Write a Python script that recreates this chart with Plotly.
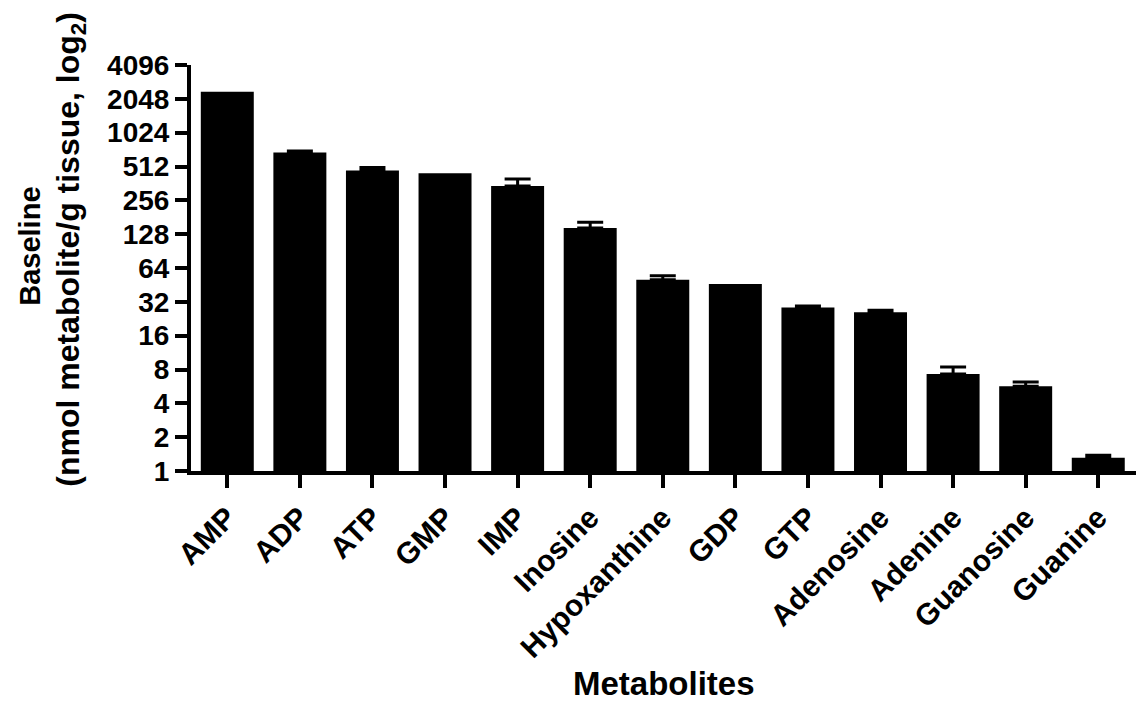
import plotly.graph_objects as go
import math

# Purine metabolite baseline levels (nmol metabolite / g tissue)
metabolites = ["AMP", "ADP", "ATP", "GMP", "IMP", "Inosine", "Hypoxanthine",
               "GDP", "GTP", "Adenosine", "Adenine", "Guanosine", "Guanine"]
baseline = [2370, 681, 471, 447, 344, 145, 50.3, 46.1, 28.5, 25.8, 7.3, 5.67, 1.31]
# upper SEM; None where the error is too small to show a bar
sem = [None, 24, 30, None, 53, 18, 4.3, None, 0.9, 1.1, 1.1, 0.53, 0.07]

y_ticks = [1, 2, 4, 8, 16, 32, 64, 128, 256, 512, 1024, 2048, 4096]
y_tick_labels = [str(v) for v in y_ticks]

FONT = "Liberation Sans, Arial, Helvetica, sans-serif"

fig = go.Figure()
fig.add_trace(go.Bar(
    x=metabolites,
    y=baseline,
    marker=dict(color="black", line=dict(width=0)),
    showlegend=False,
))

# upward-only error bars for the metabolites that have one
err_idx = [i for i, e in enumerate(sem) if e is not None]
fig.add_trace(go.Scatter(
    x=[metabolites[i] for i in err_idx],
    y=[baseline[i] for i in err_idx],
    mode="markers",
    marker=dict(size=1, opacity=0),
    error_y=dict(type="data", array=[sem[i] for i in err_idx],
                 arrayminus=[0] * len(err_idx), symmetric=False,
                 color="black", thickness=3, width=13),
    showlegend=False, hoverinfo="skip",
))

L, R, T, B = 191, 0, 65, 230.5
fig.update_layout(
    width=1136, height=702,
    margin=dict(l=L, r=R, t=T, b=B, autoexpand=False),
    paper_bgcolor="white", plot_bgcolor="white",
    bargap=0.27,
    font=dict(family=FONT, color="black"),
    xaxis=dict(
        range=[-0.5, 12.52], showgrid=False, zeroline=False,
        showline=True, linecolor="black", linewidth=4,
        ticks="outside", ticklen=13, tickwidth=4, tickcolor="black",
        tickangle=-45,
        tickfont=dict(family=FONT, size=30, color="black", weight="bold"),
    ),
    yaxis=dict(
        type="log", range=[0, math.log10(4096)],
        tickvals=y_ticks, ticktext=y_tick_labels,
        showgrid=False, zeroline=False,
        showline=True, linecolor="black", linewidth=4,
        ticks="outside", ticklen=12, tickwidth=4, tickcolor="black",
        tickfont=dict(family=FONT, size=28, color="black", weight="bold"),
    ),
)

plot_w = 1136 - L - R
plot_h = 702 - T - B

def px_x(px):
    return (px - L) / plot_w

def px_y(py):
    return (702 - B - py) / plot_h

fig.add_annotation(
    text="Metabolites", xref="paper", yref="paper",
    x=0.5, y=px_y(684), xanchor="center", yanchor="middle",
    showarrow=False, font=dict(family=FONT, size=33, color="black", weight="bold"),
)
fig.add_annotation(
    text="Baseline", xref="paper", yref="paper", textangle=-90,
    x=px_x(30), y=px_y(247), xanchor="center", yanchor="middle",
    showarrow=False, font=dict(family=FONT, size=29, color="black", weight="bold"),
)
fig.add_annotation(
    text="(nmol metabolite/g tissue, log<sub>2</sub>)", xref="paper", yref="paper",
    textangle=-90,
    x=px_x(71), y=px_y(250), xanchor="center", yanchor="middle",
    showarrow=False, font=dict(family=FONT, size=32, color="black", weight="bold"),
)

fig.write_html("out.html")
